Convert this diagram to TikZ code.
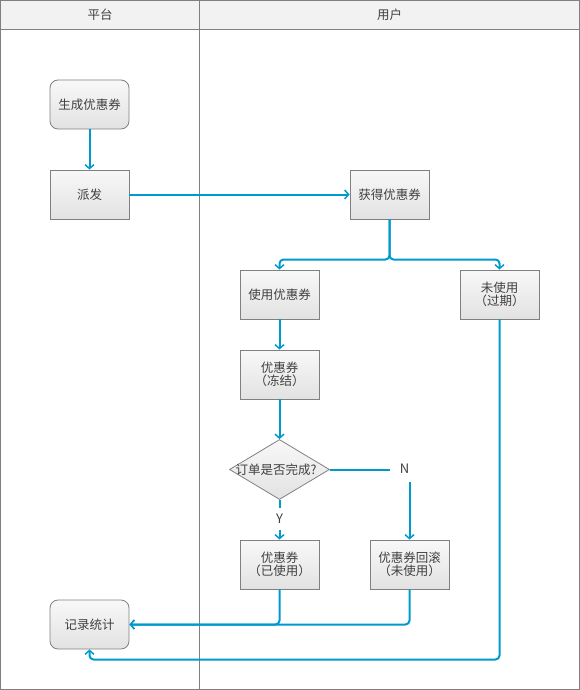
\documentclass[tikz,border=0pt]{standalone}
\usepackage{fontspec}
\setmainfont{Noto Sans CJK SC}
\usetikzlibrary{arrows.meta,shapes.geometric}
\definecolor{lineblue}{HTML}{0099CC}
\definecolor{frame}{HTML}{808080}
\definecolor{head}{HTML}{F2F2F2}
\definecolor{txtc}{HTML}{404040}
\definecolor{boxtop}{HTML}{F8F8F8}
\definecolor{boxbot}{HTML}{E2E2E2}
\begin{document}
\begin{tikzpicture}[x=1pt,y=-1pt,
  boxstyle/.style={draw=frame, line width=0.8pt, top color=boxtop, bottom color=boxbot,
     minimum width=79pt, minimum height=49pt, inner sep=0pt, align=center,
     font=\fontsize{12.5}{13}\selectfont, text=txtc},
  roundbox/.style={boxstyle, rounded corners=8pt},
  txt/.style={font=\fontsize{12.5}{13}\selectfont, text=txtc, inner sep=0pt},
  yn/.style={font=\fontsize{13}{14}\selectfont, text=txtc, inner sep=0pt},
  conn/.style={draw=lineblue, line width=2pt, -{Straight Barb[length=4pt,width=9pt,line width=1.5pt]}},
  plain/.style={draw=lineblue, line width=2pt}
]
\useasboundingbox (0,0) rectangle (580,690);
% frame and lanes
\fill[head] (0.5,0.5) rectangle (579.5,29.5);
\draw[frame, line width=0.8pt] (0.5,0.5) rectangle (579.5,689.5);
\draw[frame, line width=0.8pt] (0.5,29.5) -- (579.5,29.5);
\draw[frame, line width=0.8pt] (199.5,0.5) -- (199.5,689.5);
\node[txt] (lane1) at (100,15) {平台};
\node[txt] (lane2) at (389.5,15) {用户};

% nodes
\node[roundbox] (gen) at (89.5,104.5) {生成优惠券};
\node[boxstyle] (dist) at (89.5,194.5) {派发};
\node[boxstyle] (get) at (389.5,194.5) {获得优惠券};
\node[boxstyle] (use) at (279.5,294.5) {使用优惠券};
\node[boxstyle] (unused) at (499.5,294.5) {未使用\\（过期）};
\node[boxstyle] (frozen) at (279.5,374.5) {优惠券\\（冻结）};
\node[diamond, draw=frame, line width=0.8pt, top color=boxtop, bottom color=boxbot,
      minimum width=100pt, minimum height=60pt, inner sep=0pt] (dec) at (279.5,469.5) {};
\node[txt] (dectxt) at (276,469.5) {订单是否完成?};
\node[boxstyle] (used) at (279.5,564.5) {优惠券\\（已使用）};
\node[boxstyle] (roll) at (409.5,564.5) {优惠券回滚\\（未使用）};
\node[roundbox] (rec) at (89.5,624.5) {记录统计};

\node[yn] (nlab) at (404.5,469) {N};
\node[yn] (ylab) at (279.5,519) {Y};

% helper coordinates
\coordinate (split) at (389.5,259.5);
\coordinate (nend) at (390,469.5);
\coordinate (nstart) at (409.5,482);
\coordinate (yend) at (279.5,508);
\coordinate (ystart) at (279.5,530);
\coordinate (bottomturn) at (499.5,659.5);

% connectors
\draw[conn] (gen) -- (dist);
\draw[conn] (dist) -- (get);
\draw[conn, rounded corners=4pt] (get.south) -- (split) -| (use.north);
\draw[conn, rounded corners=4pt] (get.south) -- (split) -| (unused.north);
\draw[conn] (use) -- (frozen);
\draw[conn] (frozen) -- (dec.north);
\draw[plain] (dec.east) -- (nend);
\draw[conn] (nstart) -- (roll.north);
\draw[plain] (dec.south) -- (yend);
\draw[conn] (ystart) -- (used.north);
\draw[conn, rounded corners=4pt] (used.south) |- (rec.east);
\draw[conn, rounded corners=4pt] (roll.south) |- (rec.east);
\draw[conn, rounded corners=4pt] (unused.south) -- (bottomturn) -| (rec.south);
\end{tikzpicture}
\end{document}
